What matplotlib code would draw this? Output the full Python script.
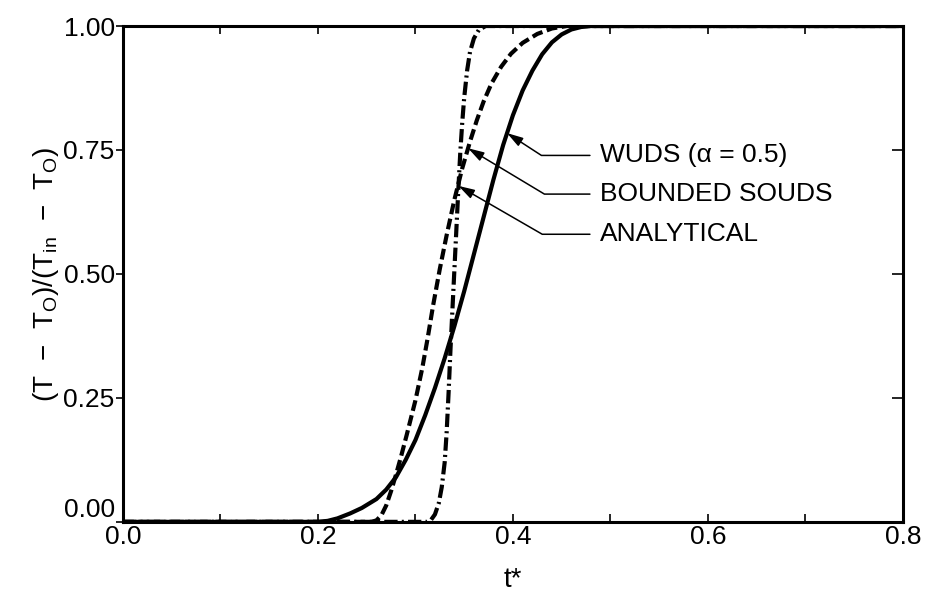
import numpy as np
import matplotlib
matplotlib.use("Agg")
import matplotlib.pyplot as plt

plt.rcParams['font.family'] = ['Liberation Sans', 'DejaVu Sans']
plt.rcParams['mathtext.fontset'] = 'custom'
plt.rcParams['mathtext.rm'] = 'Liberation Sans'
plt.rcParams['mathtext.it'] = 'Liberation Sans:italic'

# curves (t*, dimensionless temperature)
wuds_t = [0.0, 0.20, 0.21, 0.22, 0.233, 0.245, 0.26, 0.27, 0.28, 0.29,
          0.30, 0.31, 0.32, 0.33, 0.34, 0.35, 0.36, 0.37, 0.38, 0.39,
          0.40, 0.41, 0.42, 0.43, 0.44, 0.45, 0.46, 0.47, 0.48, 0.8]
wuds_v = [0.0, 0.0, 0.002, 0.007, 0.017, 0.028, 0.046, 0.065, 0.09, 0.125,
          0.165, 0.215, 0.27, 0.33, 0.395, 0.465, 0.54, 0.615, 0.69, 0.76,
          0.82, 0.87, 0.91, 0.943, 0.967, 0.983, 0.993, 0.998, 1.0, 1.0]

souds_t = [0.0, 0.255, 0.26, 0.265, 0.27, 0.275, 0.28, 0.285, 0.291, 0.30,
           0.307, 0.3125, 0.318, 0.325, 0.332, 0.34, 0.348, 0.356, 0.363,
           0.37, 0.378, 0.388, 0.398, 0.41, 0.425, 0.44, 0.455, 0.8]
souds_v = [0.0, 0.0, 0.003, 0.013, 0.033, 0.062, 0.095, 0.13, 0.175, 0.245,
           0.31, 0.37, 0.435, 0.51, 0.578, 0.65, 0.713, 0.767, 0.81,
           0.848, 0.884, 0.918, 0.944, 0.966, 0.984, 0.995, 1.0, 1.0]

analytic_t = [0.0, 0.312, 0.316, 0.32, 0.324, 0.327, 0.33, 0.332, 0.334,
              0.336, 0.338, 0.34, 0.342, 0.344, 0.346, 0.348, 0.35, 0.353,
              0.356, 0.36, 0.365, 0.372, 0.8]
analytic_v = [0.0, 0.0, 0.004, 0.015, 0.038, 0.07, 0.12, 0.18, 0.26,
              0.35, 0.43, 0.51, 0.59, 0.67, 0.745, 0.805, 0.855, 0.91,
              0.948, 0.975, 0.992, 1.0, 1.0]

labels = ["WUDS (α = 0.5)", "BOUNDED SOUDS", "ANALYTICAL"]
label_y = [0.739, 0.661, 0.58]
arrow_t = [0.394, 0.354, 0.3442]
arrow_ang = [-33, -31, -30]

xticks = [0.0, 0.2, 0.4, 0.6, 0.8]
yticks = [0.0, 0.25, 0.5, 0.75, 1.0]


def main():
    fig = plt.figure(figsize=(9.25, 5.91), dpi=100)
    ax = fig.add_axes([0.133, 0.117, 0.843, 0.839])

    ax.plot(wuds_t, wuds_v, color='black', lw=3, solid_joinstyle='round')
    ax.plot(souds_t, souds_v, color='black', lw=3, dashes=(2.6, 1.1),
            dash_capstyle='butt', dash_joinstyle='round')
    ax.plot(analytic_t, analytic_v, color='black', lw=3,
            dashes=(3.2, 1.0, 0.5, 1.0), dash_capstyle='butt',
            dash_joinstyle='round')

    curves = [(wuds_v, wuds_t), (souds_v, souds_t), (analytic_v, analytic_t)]
    for lab, ly, at, ang, (cv, ct) in zip(labels, label_y, arrow_t,
                                          arrow_ang, curves):
        tip_v = np.interp(at, ct, cv)
        ax.annotate(lab, xy=(at, tip_v), xytext=(0.489, ly),
                    ha='left', va='center', fontsize=19,
                    arrowprops=dict(arrowstyle='-|>,head_length=0.6,head_width=0.18',
                                    mutation_scale=16, color='black', lw=1.1,
                                    connectionstyle=f'angle,angleA=0,angleB={ang},rad=0',
                                    relpos=(0, 0.5), shrinkA=5, shrinkB=0))

    ax.set_xlim(0, 0.8)
    ax.set_ylim(0, 1)
    ax.set_xticks(xticks)
    ax.set_xticklabels([f"{v:.1f}" for v in xticks])
    ax.set_xticks(np.arange(0.1, 0.8, 0.2), minor=True)
    ax.set_yticks(yticks)
    ax.set_yticklabels([f"{v:.2f}" for v in yticks])
    ax.yaxis.get_major_ticks()[0].label1.set_verticalalignment('bottom')

    for s in ax.spines.values():
        s.set_linewidth(2.2)
    ax.tick_params(axis='x', which='both', direction='in', top=True,
                   length=6, width=1.2, labelsize=19, pad=2)
    ax.tick_params(axis='y', which='both', direction='out', length=5,
                   width=1.2, labelsize=19, pad=1)

    # right-hand ticks point inward
    ax2 = ax.twinx()
    ax2.set_ylim(0, 1)
    ax2.set_yticks(yticks[1:-1])
    ax2.tick_params(axis='y', direction='in', length=8, width=1.2,
                    labelright=False)
    for s in ax2.spines.values():
        s.set_visible(False)

    ax.set_xlabel("t*", fontsize=20, labelpad=13)
    ax.set_ylabel(r"(T  $-$  T$_\mathrm{O}$)/(T$_\mathrm{in}$  $-$  T$_\mathrm{O}$)",
                  fontsize=20, labelpad=2)

    fig.savefig("out.png", dpi=100)


main()
